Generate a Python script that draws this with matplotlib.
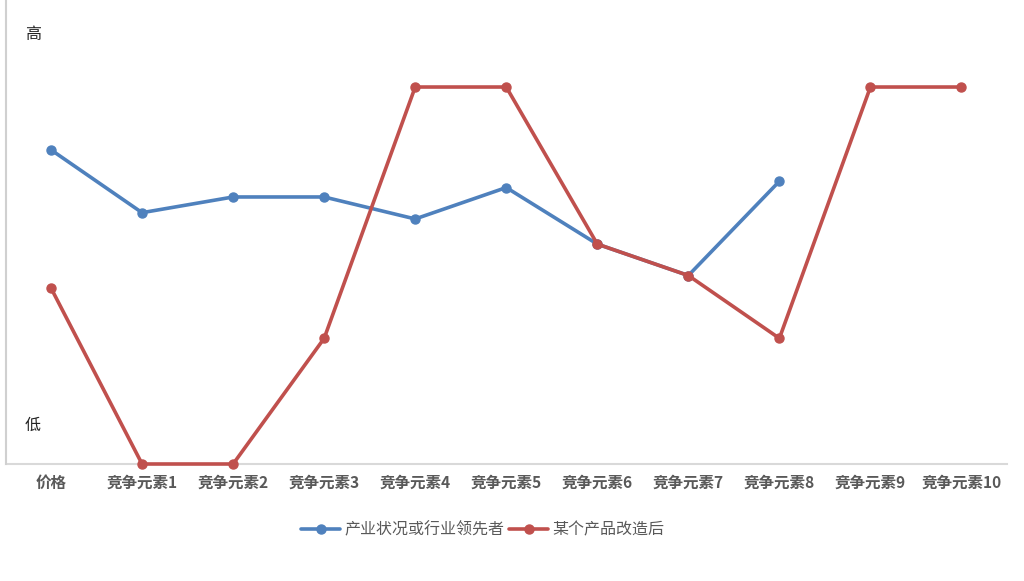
import matplotlib
matplotlib.use("Agg")
import matplotlib.pyplot as plt

plt.rcParams['font.family'] = ['Noto Sans CJK SC', 'DejaVu Sans']

categories = ["价格", "竞争元素1", "竞争元素2", "竞争元素3", "竞争元素4", "竞争元素5",
              "竞争元素6", "竞争元素7", "竞争元素8", "竞争元素9", "竞争元素10"]
leader = [10, 8, 8.5, 8.5, 7.8, 8.8, 7, 6, 9, None, None]
product = [5.6, 0, 0, 4, 12, 12, 7, 6, 4, 12, 12]
series_names = ["产业状况或行业领先者", "某个产品改造后"]

W, H = 1024, 581
fig = plt.figure(figsize=(W / 100, H / 100), dpi=100)
ax = fig.add_axes([5.5 / W, 1 - 464 / H, (1007 - 5.5) / W, 464 / H])

x = list(range(len(categories)))
lx = [i for i, v in zip(x, leader) if v is not None]
ly = [v for v in leader if v is not None]
l1, = ax.plot(lx, ly, color='#4F81BD', lw=2.6, marker='o', ms=6.5,
              solid_capstyle='round', label=series_names[0], zorder=3, clip_on=False)
l2, = ax.plot(x, product, color='#C0504D', lw=2.6, marker='o', ms=6.5,
              solid_capstyle='round', label=series_names[1], zorder=4, clip_on=False)

ax.set_xlim(-0.5, 10.5)
ax.set_ylim(0, 14.77)
ax.set_xticks(x)
ax.set_xticklabels(categories, fontsize=11.2, fontweight='bold', color='#595959')
ax.tick_params(axis='x', length=0, pad=8)
ax.set_yticks([])
for s in ['top', 'right']:
    ax.spines[s].set_visible(False)
ax.spines['left'].set_color('#D0D0D0')
ax.spines['left'].set_linewidth(1.5)
ax.spines['bottom'].set_color('#D9D9D9')
ax.spines['bottom'].set_linewidth(1.5)
ax.spines['bottom'].set_zorder(1)

fig.text(33 / W, 1 - 35 / H, "高", fontsize=11.5, color='#222222', ha='center', va='center')
fig.text(33 / W, 1 - 425 / H, "低", fontsize=11.5, color='#222222', ha='center', va='center')

leg = fig.legend(handles=[l1, l2], loc='center', bbox_to_anchor=(483 / W, 1 - 530 / H),
                 ncol=2, frameon=False, fontsize=11.5, handlelength=2.4,
                 handletextpad=0.3, columnspacing=0.3, labelcolor='#595959')

fig.savefig("out.png", dpi=100, facecolor='white')
